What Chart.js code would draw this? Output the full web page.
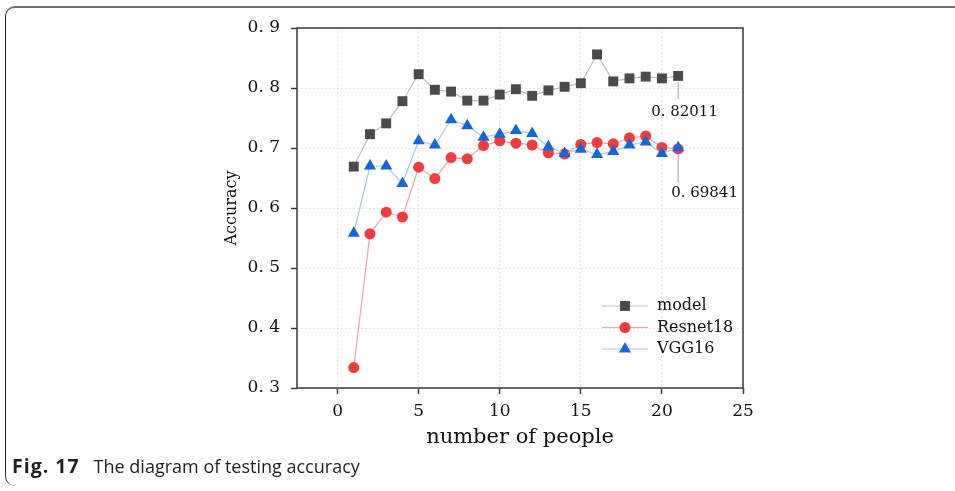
<!DOCTYPE html>
<html lang="en">
<head>
    <meta charset="UTF-8">
    <title>Testing accuracy</title>
    <script src="https://cdn.jsdelivr.net/npm/chart.js"></script>
    <style>
        html, body { margin: 0; padding: 0; background: #fff; }
        #page { position: relative; width: 955px; height: 491px; overflow: hidden; }
        #frame {
            position: absolute; left: 5px; top: 6px; width: 980px; height: 478px;
            border-top: 2px solid #707070; border-left: 1.5px solid #2a2a2a;
            border-top-left-radius: 10px; border-bottom-left-radius: 10px;
        }
        #grafico { position: absolute; left: 0; top: 0; }
        #caption {
            position: absolute; left: 12px; top: 454px;
            font-family: "Open Sans", sans-serif; font-size: 18px; line-height: 24px; color: #231f20;
        }
        #caption b { font-size: 19.5px; letter-spacing: 1px; margin-right: 14px; }
    </style>
</head>
<body>
<div id="page">
    <div id="frame"></div>
    <canvas id="grafico" width="955" height="491"></canvas>
    <div id="caption"><b>Fig. 17</b>The diagram of testing accuracy</div>
</div>
<script>
    // numero de personas y precision de cada modelo
    const people = [1, 2, 3, 4, 5, 6, 7, 8, 9, 10, 11, 12, 13, 14, 15, 16, 17, 18, 19, 20, 21];
    const modelAcc = [0.669, 0.723, 0.741, 0.778, 0.823, 0.797, 0.794, 0.779, 0.779, 0.789, 0.798,
        0.787, 0.796, 0.802, 0.808, 0.856, 0.811, 0.816, 0.819, 0.816, 0.82011];
    const resnetAcc = [0.334, 0.557, 0.593, 0.585, 0.668, 0.649, 0.684, 0.682, 0.704, 0.712, 0.708,
        0.705, 0.692, 0.690, 0.706, 0.709, 0.707, 0.717, 0.720, 0.701, 0.69841];
    const vggAcc = [0.558, 0.670, 0.670, 0.641, 0.712, 0.705, 0.747, 0.737, 0.718, 0.723, 0.729,
        0.724, 0.702, 0.691, 0.698, 0.689, 0.694, 0.705, 0.710, 0.691, 0.7005];
    const xTicks = [0, 5, 10, 15, 20, 25];
    const yTicks = [0.3, 0.4, 0.5, 0.6, 0.7, 0.8, 0.9];

    const fuente = 'DejaVu Serif';
    const toPoints = arr => arr.map((v, i) => ({ x: people[i], y: v }));

    const series = [
        { label: 'model', data: modelAcc, line: '#bdbdbd', fill: '#4a4a4a', style: 'rect', r: 7, order: 0 },
        { label: 'Resnet18', data: resnetAcc, line: '#f5a3a3', fill: '#f03c3c', style: 'circle', r: 5.5, order: 2 },
        { label: 'VGG16', data: vggAcc, line: '#a6c6ef', fill: '#1766d9', style: 'triangle', r: 7, order: 1 }
    ];

    // marco del area, leyenda y etiquetas de los ultimos valores
    const extras = {
        id: 'extras',
        beforeDatasetsDraw(chart) {
            const { ctx, chartArea: a } = chart;
            ctx.save();
            ctx.strokeStyle = '#3a3a3a';
            ctx.lineWidth = 1.5;
            ctx.strokeRect(a.left, a.top, a.right - a.left, a.bottom - a.top);
            ctx.restore();
        },
        afterDatasetsDraw(chart) {
            const { ctx, scales } = chart;
            ctx.save();
            // leyenda
            series.forEach((s, i) => {
                const y = 306 + i * 21.5;
                ctx.strokeStyle = s.line;
                ctx.lineWidth = 1.2;
                ctx.beginPath();
                ctx.moveTo(602, y);
                ctx.lineTo(648, y);
                ctx.stroke();
                ctx.fillStyle = s.fill;
                ctx.strokeStyle = s.fill;
                Chart.helpers.drawPoint(ctx, { pointStyle: s.style, radius: s.r, borderWidth: 0 }, 625, y);
                ctx.fillStyle = '#111';
                ctx.font = '16px "' + fuente + '"';
                ctx.textAlign = 'left';
                ctx.textBaseline = 'middle';
                ctx.fillText(s.label, 657, y);
            });
            // valores finales
            const last = people.length - 1;
            const px = scales.x.getPixelForValue(people[last]);
            const notas = [
                { v: modelAcc[last], l0: 6, l1: 23, ty: 36, tx: -27 },
                { v: resnetAcc[last], l0: 6, l1: 34, ty: 44, tx: -7 }
            ];
            ctx.font = '15px "' + fuente + '"';
            notas.forEach(n => {
                const py = scales.y.getPixelForValue(n.v);
                ctx.strokeStyle = '#a0a0a0';
                ctx.lineWidth = 1;
                ctx.beginPath();
                ctx.moveTo(px, py + n.l0);
                ctx.lineTo(px, py + n.l1);
                ctx.stroke();
                ctx.fillStyle = '#111';
                ctx.fillText(n.v.toFixed(5).replace('.', '. '), px + n.tx, py + n.ty);
            });
            ctx.restore();
        }
    };

    const rejilla = {
        color: '#e6e6e6',
        tickColor: '#3a3a3a',
        tickLength: 6,
        tickWidth: 1.5
    };

    new Chart(document.getElementById('grafico'), {
        type: 'line',
        data: {
            datasets: series.map(s => ({
                label: s.label,
                data: toPoints(s.data),
                borderColor: s.line,
                borderWidth: 1.2,
                backgroundColor: s.fill,
                pointBackgroundColor: s.fill,
                pointBorderColor: s.fill,
                pointBorderWidth: 0,
                pointStyle: s.style,
                pointRadius: s.r,
                order: s.order,
                tension: 0
            }))
        },
        options: {
            responsive: false,
            animation: false,
            events: [],
            layout: { padding: { left: 218, top: 28, right: 212, bottom: 37 } },
            plugins: { legend: { display: false }, tooltip: { enabled: false } },
            scales: {
                x: {
                    type: 'linear',
                    min: -2.5,
                    max: 25,
                    afterBuildTicks: scale => { scale.ticks = xTicks.map(v => ({ value: v })); },
                    afterFit: scale => { scale.height = 66; },
                    grid: rejilla,
                    border: { display: false, dash: [2, 2] },
                    ticks: { color: '#111', padding: 7, font: { family: fuente, size: 17 } },
                    title: {
                        display: true,
                        text: 'number of people',
                        color: '#111',
                        font: { family: fuente, size: 21 }
                    }
                },
                y: {
                    min: 0.3,
                    max: 0.9,
                    afterBuildTicks: scale => { scale.ticks = yTicks.map(v => ({ value: v })); },
                    afterFit: scale => { scale.width = 79; },
                    grid: rejilla,
                    border: { display: false, dash: [2, 2] },
                    ticks: {
                        color: '#111',
                        padding: 11,
                        font: { family: fuente, size: 17 },
                        callback: v => v.toFixed(1).replace('.', '. ')
                    },
                    title: {
                        display: true,
                        text: 'Accuracy',
                        color: '#111',
                        font: { family: fuente, size: 16 }
                    }
                }
            }
        },
        plugins: [extras]
    });
</script>
</body>
</html>
